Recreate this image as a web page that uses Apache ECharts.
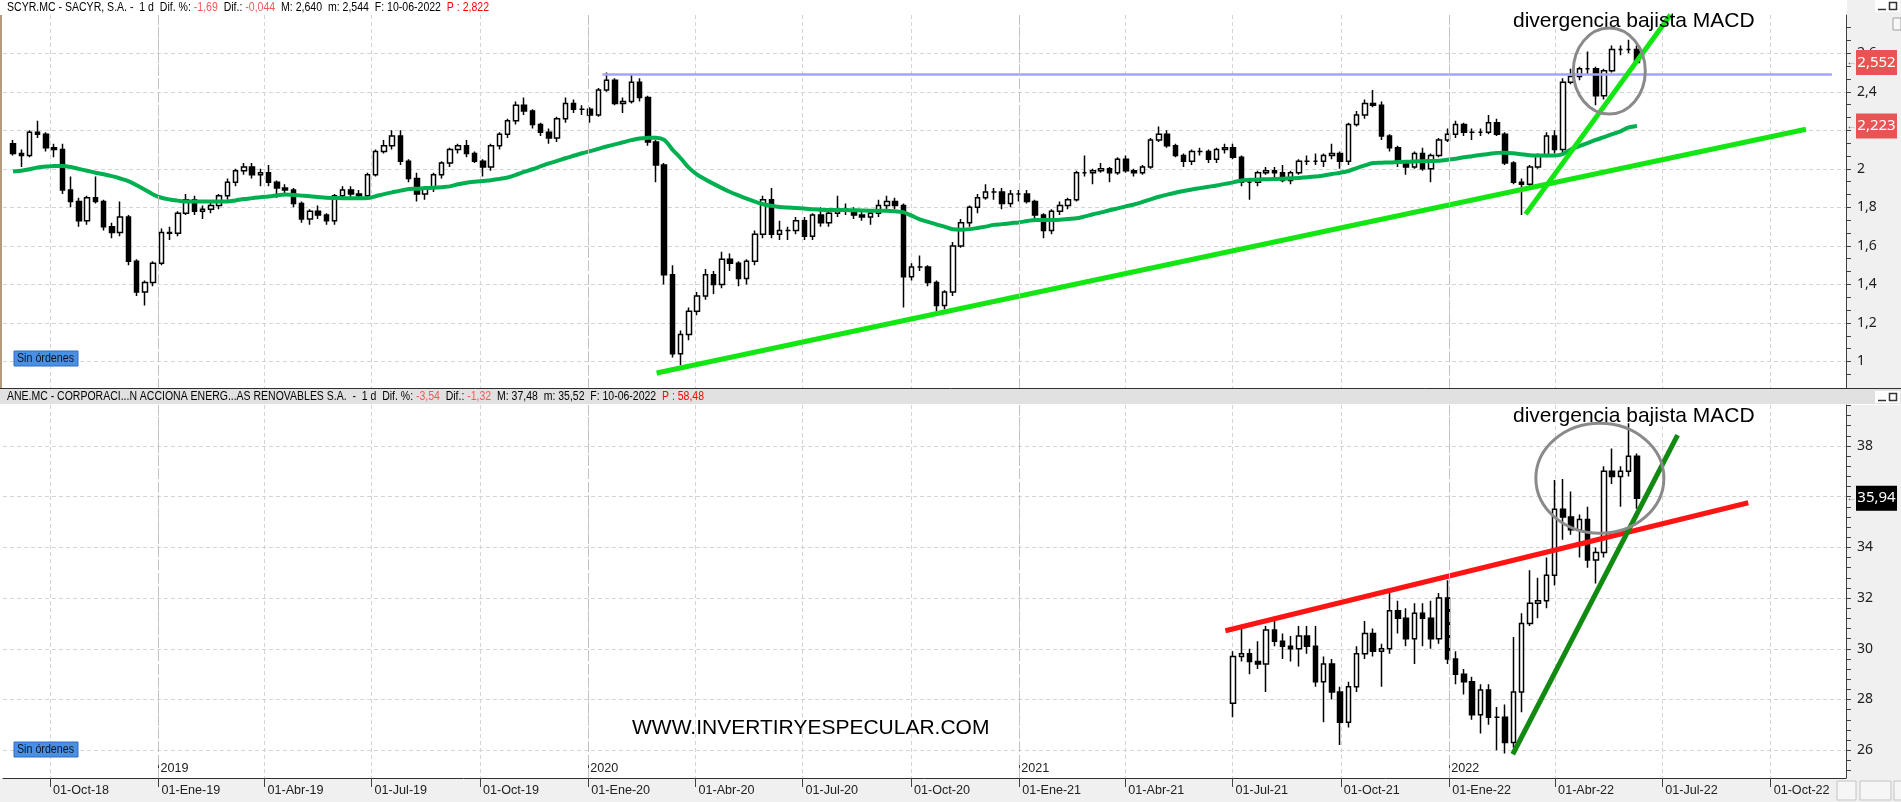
<!DOCTYPE html>
<html>
<head>
<meta charset="utf-8">
<title>SCYR.MC / ANE.MC</title>
<script src="https://cdn.jsdelivr.net/npm/echarts@6/dist/echarts.min.js"></script>
<style>
  html, body { margin: 0; padding: 0; background: #fff; }
  #chart { width: 1901px; height: 802px; }
</style>
</head>
<body>
<div id="chart"></div>
<script>
// velas semanales, la semana 0 empieza el lunes 27-08-2018
var firstMonday = '2018-08-27';

// SACYR [apertura, cierre, minimo, maximo]
var sacyrOHLC = [
  [2.13,2.08,2.07,2.15],[2.08,2.07,2.01,2.10],[2.07,2.19,2.06,2.20],[2.19,2.18,2.16,2.25],[2.18,2.11,2.09,2.19],
  [2.11,2.10,2.06,2.13],[2.10,1.89,1.87,2.13],[1.89,1.83,1.80,1.96],[1.83,1.73,1.70,1.85],[1.73,1.85,1.71,1.86],
  [1.85,1.83,1.82,1.96],[1.83,1.70,1.68,1.84],[1.70,1.67,1.64,1.72],[1.67,1.75,1.65,1.83],[1.75,1.52,1.50,1.76],
  [1.52,1.36,1.34,1.53],[1.36,1.41,1.29,1.42],[1.41,1.51,1.39,1.52],[1.51,1.67,1.50,1.69],[1.67,1.665,1.63,1.70],
  [1.665,1.77,1.65,1.78],[1.77,1.84,1.76,1.87],[1.84,1.78,1.76,1.86],[1.78,1.79,1.74,1.81],[1.79,1.81,1.77,1.83],
  [1.81,1.86,1.79,1.87],[1.86,1.93,1.84,1.95],[1.93,1.99,1.91,2.00],[1.99,2.01,1.97,2.03],[2.01,1.97,1.95,2.03],
  [1.97,1.98,1.91,2.00],[1.98,1.93,1.91,2.02],[1.93,1.90,1.85,1.94],[1.90,1.89,1.87,1.92],[1.89,1.82,1.80,1.90],
  [1.82,1.74,1.72,1.83],[1.74,1.78,1.71,1.79],[1.78,1.76,1.74,1.81],[1.76,1.73,1.71,1.77],[1.73,1.86,1.71,1.87],
  [1.86,1.89,1.84,1.91],[1.89,1.87,1.85,1.91],[1.87,1.86,1.84,1.89],[1.86,1.97,1.84,1.98],[1.97,2.09,1.96,2.10],
  [2.09,2.12,2.08,2.15],[2.12,2.17,2.10,2.20],[2.17,2.04,2.02,2.20],[2.04,1.95,1.93,2.05],[1.95,1.87,1.83,1.98],
  [1.87,1.90,1.84,1.91],[1.90,1.97,1.88,1.98],[1.97,2.03,1.95,2.04],[2.03,2.10,2.01,2.11],[2.10,2.12,2.08,2.13],
  [2.12,2.08,2.06,2.15],[2.08,2.04,2.03,2.09],[2.04,2.01,1.96,2.05],[2.01,2.12,1.99,2.13],[2.12,2.18,2.10,2.19],
  [2.18,2.25,2.16,2.26],[2.25,2.33,2.23,2.35],[2.33,2.30,2.28,2.37],[2.30,2.23,2.21,2.31],[2.23,2.19,2.17,2.24],
  [2.19,2.16,2.13,2.21],[2.16,2.26,2.14,2.27],[2.26,2.34,2.24,2.37],[2.34,2.31,2.29,2.36],[2.31,2.31,2.28,2.33],
  [2.31,2.28,2.24,2.32],[2.28,2.41,2.27,2.42],[2.41,2.46,2.40,2.50],[2.46,2.34,2.33,2.47],[2.34,2.35,2.29,2.37],
  [2.35,2.45,2.34,2.49],[2.45,2.37,2.35,2.47],[2.37,2.14,2.12,2.38],[2.14,2.02,1.93,2.15],[2.02,1.45,1.40,2.03],
  [1.45,1.04,1.02,1.50],[1.04,1.14,0.98,1.16],[1.14,1.26,1.11,1.28],[1.26,1.34,1.24,1.36],[1.34,1.45,1.32,1.48],
  [1.45,1.40,1.35,1.47],[1.40,1.53,1.38,1.57],[1.53,1.51,1.47,1.56],[1.51,1.43,1.39,1.52],[1.43,1.52,1.40,1.53],
  [1.52,1.66,1.50,1.68],[1.66,1.84,1.64,1.86],[1.84,1.66,1.64,1.90],[1.66,1.68,1.63,1.73],[1.68,1.68,1.63,1.70],
  [1.68,1.73,1.66,1.75],[1.73,1.65,1.63,1.75],[1.65,1.76,1.63,1.77],[1.76,1.72,1.70,1.80],[1.72,1.77,1.70,1.78],
  [1.77,1.79,1.75,1.86],[1.79,1.78,1.76,1.82],[1.78,1.76,1.74,1.80],[1.76,1.75,1.73,1.78],[1.75,1.77,1.71,1.78],
  [1.77,1.81,1.75,1.84],[1.81,1.83,1.79,1.86],[1.83,1.81,1.79,1.85],[1.81,1.44,1.28,1.82],[1.44,1.49,1.42,1.51],
  [1.49,1.49,1.47,1.55],[1.49,1.41,1.39,1.50],[1.41,1.29,1.26,1.42],[1.29,1.36,1.27,1.37],[1.36,1.60,1.34,1.62],
  [1.60,1.72,1.59,1.74],[1.72,1.80,1.70,1.81],[1.80,1.85,1.77,1.87],[1.85,1.88,1.84,1.92],[1.88,1.88,1.84,1.90],
  [1.88,1.82,1.79,1.90],[1.82,1.87,1.80,1.89],[1.87,1.87,1.83,1.89],[1.87,1.83,1.82,1.89],[1.83,1.76,1.74,1.84],
  [1.76,1.68,1.64,1.77],[1.68,1.78,1.66,1.79],[1.78,1.81,1.76,1.83],[1.81,1.84,1.79,1.85],[1.84,1.98,1.83,1.99],
  [1.98,1.98,1.96,2.07],[1.98,1.99,1.92,2.00],[1.99,2.00,1.98,2.03],[2.00,1.98,1.93,2.01],[1.98,2.05,1.97,2.06],
  [2.05,1.99,1.98,2.07],[1.99,1.98,1.96,2.00],[1.98,2.01,1.97,2.02],[2.01,2.15,2.00,2.16],[2.15,2.18,2.14,2.22],
  [2.18,2.12,2.11,2.20],[2.12,2.07,2.06,2.13],[2.07,2.04,2.01,2.08],[2.04,2.09,2.02,2.10],[2.09,2.09,2.07,2.11],
  [2.09,2.05,2.03,2.10],[2.05,2.10,2.03,2.11],[2.10,2.11,2.08,2.13],[2.11,2.06,2.05,2.13],[2.06,1.93,1.91,2.07],
  [1.93,1.93,1.84,1.95],[1.93,1.98,1.91,1.99],[1.98,1.99,1.97,2.01],[1.99,1.98,1.95,2.01],[1.98,1.94,1.93,2.02],
  [1.94,1.98,1.92,1.99],[1.98,2.04,1.97,2.05],[2.04,2.04,2.02,2.07],[2.04,2.04,2.02,2.08],[2.04,2.07,2.01,2.08],
  [2.07,2.08,2.05,2.13],[2.08,2.04,2.00,2.09],[2.04,2.23,2.02,2.24],[2.23,2.28,2.22,2.30],[2.28,2.34,2.26,2.36],
  [2.34,2.33,2.32,2.41],[2.33,2.17,2.15,2.35],[2.17,2.11,2.09,2.18],[2.11,2.03,2.01,2.12],[2.03,2.01,1.97,2.04],
  [2.01,2.08,2.00,2.09],[2.08,2.00,1.99,2.11],[2.00,2.07,1.93,2.08],[2.07,2.15,2.06,2.16],[2.15,2.18,2.14,2.21],
  [2.18,2.23,2.16,2.25],[2.23,2.19,2.17,2.24],[2.19,2.19,2.15,2.21],[2.19,2.19,2.17,2.21],[2.19,2.24,2.18,2.28],
  [2.24,2.18,2.17,2.26],[2.18,2.03,2.02,2.19],[2.03,1.93,1.92,2.04],[1.93,1.92,1.76,1.95],[1.92,2.01,1.90,2.02],
  [2.01,2.07,2.00,2.08],[2.07,2.17,2.06,2.19],[2.17,2.10,2.08,2.20],[2.10,2.45,2.08,2.47],[2.45,2.48,2.44,2.52],
  [2.48,2.52,2.46,2.53],[2.52,2.52,2.49,2.61],[2.52,2.38,2.33,2.53],[2.38,2.51,2.36,2.52],[2.51,2.62,2.50,2.64],
  [2.62,2.62,2.59,2.64],[2.62,2.62,2.60,2.67],[2.62,2.552,2.544,2.64]
];

// media movil (linea verde) leida semana a semana
var sacyrMA = [
  1.986,1.99,1.998,2.007,2.012,2.015,2.015,2.01,2.00,1.99,
  1.98,1.972,1.962,1.95,1.936,1.915,1.892,1.867,1.85,1.841,
  1.835,1.83,1.83,1.83,1.83,1.83,1.83,1.836,1.843,1.848,
  1.853,1.857,1.862,1.867,1.864,1.861,1.858,1.854,1.85,1.849,
  1.848,1.847,1.847,1.848,1.858,1.869,1.878,1.887,1.895,1.897,
  1.90,1.902,1.905,1.909,1.92,1.928,1.933,1.937,1.941,1.948,
  1.955,1.969,1.984,1.998,2.013,2.028,2.041,2.055,2.068,2.081,
  2.092,2.104,2.116,2.127,2.138,2.149,2.158,2.161,2.162,2.15,
  2.10,2.055,2.005,1.97,1.945,1.922,1.90,1.88,1.862,1.845,
  1.83,1.816,1.808,1.802,1.799,1.797,1.794,1.79,1.787,1.786,
  1.786,1.786,1.785,1.784,1.783,1.783,1.783,1.78,1.775,1.757,
  1.738,1.725,1.712,1.70,1.686,1.684,1.687,1.693,1.70,1.709,
  1.713,1.718,1.722,1.729,1.735,1.735,1.735,1.736,1.74,1.743,
  1.753,1.764,1.774,1.785,1.795,1.805,1.815,1.828,1.842,1.855,
  1.866,1.876,1.885,1.893,1.90,1.907,1.914,1.922,1.93,1.94,
  1.943,1.945,1.946,1.947,1.949,1.951,1.953,1.956,1.96,1.966,
  1.973,1.98,1.989,2.004,2.018,2.03,2.032,2.033,2.035,2.037,
  2.038,2.04,2.041,2.042,2.047,2.053,2.06,2.066,2.072,2.077,
  2.083,2.084,2.081,2.076,2.071,2.07,2.07,2.07,2.077,2.102,
  2.118,2.134,2.15,2.165,2.18,2.195,2.215,2.223
];

// ACCIONA ENERGIA empieza a cotizar en la semana 148 (28-06-2021)
var aneStartWeek = 148;
var aneOHLC = [
  [27.85,29.7,27.3,29.9],[29.7,29.8,29.5,30.8],[29.8,29.5,29.0,30.0],[29.5,29.4,29.2,30.3],[29.4,30.74,28.3,30.9],
  [30.74,30.3,30.1,31.26],[30.3,30.1,29.6,30.6],[30.1,30.0,29.5,30.5],[30.0,30.5,29.3,30.9],[30.5,30.1,29.8,30.9],
  [30.1,28.7,28.5,30.9],[28.7,29.4,27.1,29.7],[29.4,28.3,28.0,29.6],[28.3,27.1,26.2,28.5],[27.1,28.5,26.9,28.7],
  [28.5,29.8,28.3,30.1],[29.8,30.6,29.6,31.1],[30.6,29.9,29.7,30.8],[29.9,30.0,28.5,30.2],[30.0,31.5,29.8,32.25],
  [31.5,31.2,30.6,31.9],[31.2,30.4,30.1,31.6],[30.4,31.4,29.4,31.8],[31.4,31.2,30.1,31.8],[31.2,30.4,30.0,31.9],
  [30.4,32.0,30.2,32.2],[32.0,29.6,29.4,32.7],[29.6,29.0,28.6,29.9],[29.0,28.7,28.2,29.2],[28.7,27.4,27.2,28.9],
  [27.4,28.37,26.66,28.6],[28.37,27.3,27.0,28.6],[27.3,27.3,26.0,27.7],[27.3,26.3,25.87,27.8],[26.3,28.3,26.1,30.47],
  [28.3,31.0,27.5,31.4],[31.0,31.8,30.9,33.1],[31.8,31.9,31.2,32.8],[31.9,32.9,31.6,33.6],[32.9,35.5,32.5,36.66],
  [35.5,35.2,34.3,36.7],[35.2,34.7,34.5,36.2],[34.7,35.1,33.6,35.3],[35.1,33.5,33.2,35.6],[33.5,33.8,32.58,34.0],
  [33.8,37.0,33.6,37.2],[37.0,36.8,36.5,37.9],[36.8,37.0,35.6,37.2],[37.0,37.6,36.8,38.9],[37.6,35.94,35.52,37.7]
];

// lineas dibujadas a mano [fecha, valor]
var longTrend = [['2020-02-28', 0.94], ['2022-10-31', 2.206]];
var steepTrend = [['2022-03-07', 1.765], ['2022-07-08', 2.80]];
var resistance = [['2020-01-13', 2.49], ['2022-11-22', 2.49]];
var redTrend = [['2021-06-25', 30.71], ['2022-09-12', 35.76]];
var greenTrend = [['2022-02-24', 25.84], ['2022-07-14', 38.43]];

var quarterTicks = ['2018-10-01','2019-01-01','2019-04-01','2019-07-01','2019-10-01','2020-01-01','2020-04-01',
  '2020-07-01','2020-10-01','2021-01-01','2021-04-01','2021-07-01','2021-10-01','2022-01-01','2022-04-01',
  '2022-07-01','2022-10-01'];
var yearTicks = ['2019-01-01','2020-01-01','2021-01-01','2022-01-01'];
var sacyrTicks = [1, 1.2, 1.4, 1.6, 1.8, 2, 2.2, 2.4, 2.6];
var aneTicks = [26, 28, 30, 32, 34, 36, 38];
var meses = ['Ene','Feb','Mar','Abr','May','Jun','Jul','Ago','Sep','Oct','Nov','Dic'];

var DAY = 86400000;
function t(s) { var p = s.split('-'); return new Date(+p[0], +p[1] - 1, +p[2]).getTime(); }
function weekTime(k) { return t(firstMonday) + (k * 7 + 3.5) * DAY; }
function comma(v) { return String(+(+v).toFixed(3)).replace('.', ','); }

var sacyrData = sacyrOHLC.map(function (r, k) { return [weekTime(k), r[0], r[1], r[2], r[3]]; });
var maData = sacyrMA.map(function (v, k) { return [weekTime(k), v]; });
var aneData = aneOHLC.map(function (r, i) { return [weekTime(aneStartWeek + i), r[0], r[1], r[2], r[3]]; });
function lineData(a) { return a.map(function (p) { return [t(p[0]), p[1]]; }); }

var qVals = quarterTicks.map(t);
var yVals = yearTicks.map(t);
var xMin = t('2018-08-22'), xMax = t('2022-12-04');
var topMin = 0.862, topMax = 2.799, botMin = 24.903, botMax = 39.617;

var minorTop = [], minorBot = [];
for (var i = -1; i <= 27; i++) minorTop.push(+(1 + i * 0.2 / 3).toFixed(4));
for (var j = 0; j <= 36; j++) minorBot.push(+(25.2 + j * 0.4).toFixed(2));

// medir fuentes para encajar anchos
var ctx = document.createElement('canvas').getContext('2d');
var sans = "'Liberation Sans', Arial, sans-serif";
var narrow = "'Liberation Sans Narrow', 'Liberation Sans', Arial, sans-serif";
function measure(str, size, family) { ctx.font = size + 'px ' + family; return ctx.measureText(str).width; }
function fit(str, family, target, maxSize) {
  var s = 20 * target / measure(str, 20, family);
  return Math.min(maxSize, Math.round(s * 10) / 10);
}
var xLabSize = fit('01-Oct-18', narrow, 56, 14);
var headSize = 12.5;

var gridColor = '#d4d4d4';
var yearMark = {
  symbol: ['none', 'none'], silent: true, animation: false, label: { show: false },
  lineStyle: { color: '#c2c2c2', type: [10, 3], width: 1 },
  data: yVals.map(function (v) { return { xAxis: v }; })
};
var candleStyle = { color: '#ffffff', color0: '#000000', borderColor: '#000000', borderColor0: '#000000', borderWidth: 1.5 };

// eje x como valor numerico (milisegundos) para poder fijar las marcas
function xAxisBase(grid) {
  return { type: 'value', gridIndex: grid, min: xMin, max: xMax, scale: true };
}
function yMain(grid, mn, mx, ticks) {
  return {
    type: 'value', gridIndex: grid, position: 'right', min: mn, max: mx,
    axisLine: { show: true, lineStyle: { color: '#404040', width: 1 } },
    axisTick: { show: false, customValues: ticks },
    axisLabel: { customValues: ticks, formatter: comma, margin: 11, fontSize: 14,
      fontFamily: "'Noto Sans', 'Liberation Sans', sans-serif", color: '#202020' },
    splitLine: { show: true, lineStyle: { color: gridColor, type: [4, 3] } }
  };
}
function yMinor(grid, mn, mx, ticks) {
  return {
    type: 'value', gridIndex: grid, position: 'right', min: mn, max: mx,
    axisLine: { show: false },
    axisTick: { show: true, customValues: ticks, length: 5, lineStyle: { color: '#404040' } },
    axisLabel: { show: false }, splitLine: { show: false }
  };
}

var option = {
  animation: false,
  backgroundColor: '#ffffff',
  grid: [
    { left: 3, right: 55, top: 15, height: 373 },
    { left: 3, right: 55, top: 405, height: 373 }
  ],
  xAxis: [
    Object.assign(xAxisBase(0), {
      axisLine: { show: false }, axisTick: { show: false, customValues: qVals },
      axisLabel: { show: false, customValues: qVals },
      splitLine: { show: true, lineStyle: { color: gridColor, type: [4, 3] } } }),
    Object.assign(xAxisBase(1), { position: 'bottom',
      axisLine: { show: true, lineStyle: { color: '#303030', width: 1 } },
      axisTick: { show: true, customValues: qVals, length: 9, lineStyle: { color: '#404040' } },
      axisLabel: { customValues: qVals, align: 'left', padding: [0, 0, 0, 3], margin: 6,
        fontSize: xLabSize, fontFamily: narrow, color: '#202020',
        formatter: function (v) { var d = new Date(v); return '01-' + meses[d.getMonth()] + '-' + String(d.getFullYear()).slice(2); } },
      splitLine: { show: true, lineStyle: { color: gridColor, type: [4, 3] } } }),
    Object.assign(xAxisBase(1), { position: 'bottom',
      axisLine: { show: false },
      axisTick: { show: true, inside: true, length: 15, customValues: yVals, lineStyle: { color: '#404040' } },
      axisLabel: { inside: true, customValues: yVals, align: 'left', padding: [0, 0, 0, 2], margin: 3,
        fontSize: xLabSize, fontFamily: narrow, color: '#202020',
        formatter: function (v) { return String(new Date(v).getFullYear()); } },
      splitLine: { show: false } })
  ],
  yAxis: [
    yMain(0, topMin, topMax, sacyrTicks),
    yMinor(0, topMin, topMax, minorTop),
    yMain(1, botMin, botMax, aneTicks),
    yMinor(1, botMin, botMax, minorBot)
  ],
  series: [
    { type: 'candlestick', name: 'SCYR.MC', xAxisIndex: 0, yAxisIndex: 0, data: sacyrData,
      encode: { x: 0, y: [1, 2, 3, 4] }, barWidth: 5, itemStyle: candleStyle, markLine: yearMark },
    { type: 'line', name: 'media', xAxisIndex: 0, yAxisIndex: 0, data: maData, showSymbol: false,
      smooth: 0.3, z: 3, lineStyle: { color: '#00b050', width: 4 } },
    { type: 'line', xAxisIndex: 0, yAxisIndex: 0, data: lineData(resistance), showSymbol: false,
      z: 3, lineStyle: { color: '#a4a4f4', width: 2.5 } },
    { type: 'line', xAxisIndex: 0, yAxisIndex: 0, data: lineData(longTrend), showSymbol: false,
      z: 4, lineStyle: { color: '#14e614', width: 5 } },
    { type: 'line', xAxisIndex: 0, yAxisIndex: 0, data: lineData(steepTrend), showSymbol: false,
      z: 4, lineStyle: { color: '#14e614', width: 5 } },
    { type: 'candlestick', name: 'ANE.MC', xAxisIndex: 1, yAxisIndex: 2, data: aneData,
      encode: { x: 0, y: [1, 2, 3, 4] }, barWidth: 5, itemStyle: candleStyle, markLine: yearMark },
    { type: 'line', xAxisIndex: 1, yAxisIndex: 2, data: lineData(redTrend), showSymbol: false,
      z: 4, lineStyle: { color: '#ff1414', width: 5 } },
    { type: 'line', xAxisIndex: 1, yAxisIndex: 2, data: lineData(greenTrend), showSymbol: false,
      z: 4, lineStyle: { color: '#128a12', width: 5 } }
  ]
};

var chart = echarts.init(document.getElementById('chart'));
chart.setOption(option);

// anotaciones y marco
function yPix(axis, v) { return chart.convertToPixel({ yAxisIndex: axis }, v); }
function pt(grid, d, v) { return chart.convertToPixel({ gridIndex: grid }, [t(d), v]); }
function txt(x, y, text, size, fill, family, align, z) {
  return { type: 'text', x: x, y: y, z: z || 50,
    style: { text: text, fontSize: size, fontFamily: family || sans,
      fill: fill || '#000', align: align || 'left', verticalAlign: 'middle' } };
}
function tag(y, text, fill) {
  return [
    { type: 'rect', z: 90, shape: { x: 1856, y: y - 12.5, width: 41, height: 25 }, style: { fill: fill } },
    txt(1876.5, y, text, 15, '#ffffff', "'Noto Sans', 'Liberation Sans', sans-serif", 'center', 91),
    txt(1851.5, y, '\u2190', 10, '#555555', null, 'center', 91)
  ];
}
// cabecera con tramos en rojo, comprimida horizontalmente al ancho de la original
function header(y, parts, width) {
  var s = '', plain = '', rich = {};
  parts.forEach(function (p, i) {
    s += '{p' + i + '|' + p[0] + '}'; plain += p[0];
    rich['p' + i] = { fill: p[1], fontSize: headSize, fontFamily: sans };
  });
  var sx = width / measure(plain, headSize, sans);
  return { type: 'text', x: 7, y: y, z: 60, scaleX: sx,
    style: { text: s, rich: rich, fontSize: headSize, fontFamily: sans, verticalAlign: 'middle' } };
}
function badge(y) {
  var label = 'Sin \u00f3rdenes';
  return [
    { type: 'rect', z: 60, shape: { x: 14, y: y, width: 64, height: 15 }, style: { fill: '#4a90e2', stroke: '#2c6cc4', lineWidth: 1 } },
    { type: 'text', x: 17, y: y + 8, z: 61, scaleX: 57 / measure(label, 12, sans),
      style: { text: label, fontSize: 12, fontFamily: sans, fill: '#0a1428', verticalAlign: 'middle' } }
  ];
}
function winButtons(y) {
  return [
    { type: 'rect', z: 60, shape: { x: 1875, y: y, width: 25, height: 12 }, style: { fill: '#ffffff' } },
    { type: 'line', z: 61, shape: { x1: 1878, y1: y + 9.5, x2: 1886, y2: y + 9.5 }, style: { stroke: '#333', lineWidth: 1.5 } },
    { type: 'rect', z: 61, shape: { x: 1889.5, y: y + 2.5, width: 7, height: 7 }, style: { fill: 'none', stroke: '#333', lineWidth: 1.5 } }
  ];
}

var topCirc = pt(0, '2022-05-17', 2.508);
var botCirc = pt(1, '2022-05-09', 36.73);
var redSoft = '#f05a5a';

var graphics = [
  { type: 'rect', z: -5, shape: { x: 1847, y: 0, width: 54, height: 388 }, style: { fill: '#f0f0f0' } },
  { type: 'rect', z: -5, shape: { x: 1847, y: 405, width: 54, height: 374 }, style: { fill: '#f0f0f0' } },
  { type: 'rect', z: -5, shape: { x: 0, y: 389, width: 1901, height: 15 }, style: { fill: '#e1e1e1' } },
  { type: 'line', z: 5, shape: { x1: 0, y1: 388.5, x2: 1901, y2: 388.5 }, style: { stroke: '#303030', lineWidth: 1 } },
  { type: 'rect', z: -5, shape: { x: 0, y: 779, width: 1901, height: 23 }, style: { fill: '#f0f0f0' } },
  { type: 'rect', z: 5, shape: { x: 0, y: 15, width: 2, height: 373 }, style: { fill: '#b39b7d' } },
  { type: 'rect', z: 5, shape: { x: 1893, y: 18, width: 8, height: 12 }, style: { fill: '#f8f8f8', stroke: '#a0a0a0' } },
  { type: 'rect', z: 5, shape: { x: 1837, y: 781, width: 19, height: 19 }, style: { fill: '#f6f6f6', stroke: '#c4c4c4' } },
  { type: 'rect', z: 5, shape: { x: 1860, y: 781, width: 31, height: 19 }, style: { fill: '#f6f6f6', stroke: '#c4c4c4' } },
  { type: 'rect', z: 5, shape: { x: 1894, y: 781, width: 10, height: 19 }, style: { fill: '#f6f6f6', stroke: '#c4c4c4' } },
  header(8, [['SCYR.MC - SACYR, S.A. -  1 d  Dif. %: ', '#000'], ['-1,69', redSoft], ['  Dif.: ', '#000'], ['-0,044', redSoft],
    ['  M: 2,640  m: 2,544  F: 10-06-2022  ', '#000'], ['P : 2,822', '#ff0000']], 482),
  header(397, [['ANE.MC - CORPORACI...N ACCIONA ENERG...AS RENOVABLES S.A.  -  1 d  Dif. %: ', '#000'], ['-3,54', redSoft],
    ['  Dif.: ', '#000'], ['-1,32', redSoft], ['  M: 37,48  m: 35,52  F: 10-06-2022  ', '#000'], ['P : 58,48', '#ff0000']], 697),
  txt(1513, 21.5, 'divergencia bajista MACD', 21, '#000'),
  txt(1513, 416.5, 'divergencia bajista MACD', 21, '#000'),
  txt(632, 728, 'WWW.INVERTIRYESPECULAR.COM', 21, '#000'),
  { type: 'ellipse', z: 80, shape: { cx: topCirc[0], cy: topCirc[1], rx: 36, ry: 43 }, style: { fill: 'none', stroke: '#8a8a8a', lineWidth: 3 } },
  { type: 'ellipse', z: 80, shape: { cx: botCirc[0], cy: botCirc[1], rx: 64, ry: 55 }, style: { fill: 'none', stroke: '#8a8a8a', lineWidth: 3 } }
];
graphics = graphics.concat(badge(351), badge(742), winButtons(0), winButtons(391),
  tag(yPix(0, sacyrOHLC[sacyrOHLC.length - 1][1]), comma(sacyrOHLC[sacyrOHLC.length - 1][1]), '#e85454'),
  tag(yPix(0, sacyrMA[sacyrMA.length - 1]), comma(sacyrMA[sacyrMA.length - 1]), '#e85454'),
  tag(yPix(2, aneOHLC[aneOHLC.length - 1][1]), comma(aneOHLC[aneOHLC.length - 1][1]), '#000000'));

chart.setOption({ graphic: { elements: graphics } });
</script>
</body>
</html>
